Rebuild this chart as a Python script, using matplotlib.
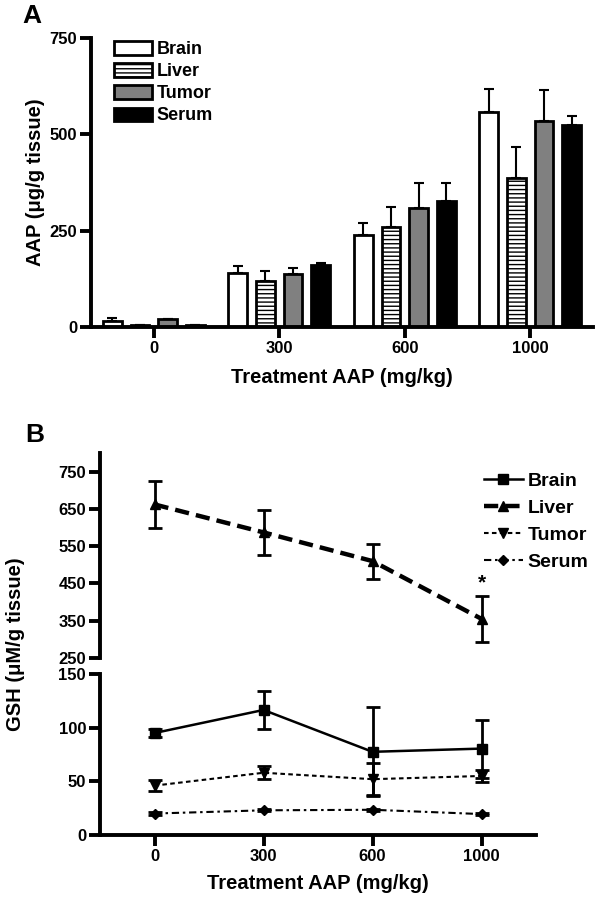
import matplotlib
matplotlib.use("Agg")
import matplotlib.pyplot as plt
import numpy as np

plt.rcParams['font.family'] = ['Liberation Sans', 'DejaVu Sans']
plt.rcParams['font.weight'] = 'bold'
plt.rcParams['hatch.linewidth'] = 1.0

# ---------------- Data ----------------
doses = ['0', '300', '600', '1000']
tissues = ['Brain', 'Liver', 'Tumor', 'Serum']

# Panel A: AAP (ug/g tissue), mean and upward SD
aap_brain = [15, 140, 240, 557]
aap_liver = [6, 119, 259, 386]
aap_tumor = [20, 138, 310, 535]
aap_serum = [4, 160, 328, 524]
aap_brain_err = [8, 19, 29, 61]
aap_liver_err = [0, 26, 53, 80]
aap_tumor_err = [2, 15, 65, 79]
aap_serum_err = [0, 7, 47, 24]

# Panel B: GSH (uM/g tissue)
gsh_brain = [95, 116.5, 77.5, 80.5]
gsh_brain_err = [4, 18, 41.5, 27]
gsh_liver = [662, 587, 510, 355]
gsh_liver_err = [62, 60, 47, 62]
gsh_tumor = [46, 58, 52, 55]
gsh_tumor_err = [5, 6, 15, 6]
gsh_serum = [20, 23, 23.5, 19.5]
gsh_serum_err = [1, 1, 1, 1]

W, H = 600, 899
fig = plt.figure(figsize=(6, 8.99), dpi=100)

def fx(px):
    return px / W

def fy(py):
    return 1 - py / H

SP_LW = 2.8

def style_axes(ax):
    for s in ['top', 'right']:
        ax.spines[s].set_visible(False)
    for s in ['left', 'bottom']:
        ax.spines[s].set_linewidth(SP_LW)
    ax.tick_params(axis='both', width=SP_LW, length=8, labelsize=12, pad=2)
    for lab in ax.get_xticklabels() + ax.get_yticklabels():
        lab.set_fontweight('bold')

# ---------------- Panel A ----------------
axA = fig.add_axes([fx(91), fy(327), fx(593) - fx(91), fy(38) - fy(327)])
x = np.arange(len(doses))
offsets = [-0.33, -0.11, 0.11, 0.33]
bw = 0.15
vals = [aap_brain, aap_liver, aap_tumor, aap_serum]
errs = [aap_brain_err, aap_liver_err, aap_tumor_err, aap_serum_err]
faces = ['white', 'white', '#808080', 'black']
hatches = [None, '----', None, None]
for i, t in enumerate(tissues):
    axA.bar(x + offsets[i], vals[i], width=bw, color=faces[i], edgecolor='black',
            linewidth=2, hatch=hatches[i], label=t, zorder=2)
    axA.errorbar(x + offsets[i], vals[i], yerr=[np.zeros(4), errs[i]], fmt='none',
                 ecolor='black', elinewidth=1.5, capsize=3.5, capthick=1.5, zorder=1)
axA.set_xlim(-0.5, 3.5)
axA.set_ylim(0, 750)
axA.set_yticks([0, 250, 500, 750])
axA.set_xticks(x)
axA.set_xticklabels(doses)
style_axes(axA)
axA.set_xlabel('Treatment AAP (mg/kg)', fontsize=14.5, fontweight='bold', labelpad=9)
axA.set_ylabel('AAP (μg/g tissue)', fontsize=14.5, fontweight='bold', labelpad=3)
axA.legend(loc='upper left', bbox_to_anchor=(0.014, 1.045), frameon=False,
           prop={'weight': 'bold', 'size': 13}, handlelength=2.1,
           handleheight=0.75, labelspacing=0.28, handletextpad=0.25)
fig.text(fx(22), fy(16), 'A', fontsize=19, fontweight='bold', ha='left', va='center')

# ---------------- Panel B ----------------
left_b = fx(100)
width_b = fx(536) - fx(100)
axU = fig.add_axes([left_b, fy(658), width_b, fy(453) - fy(658)])
axL = fig.add_axes([left_b, fy(835), width_b, fy(674) - fy(835)])

series = [
    ('Brain', gsh_brain, gsh_brain_err, '-', 's', 1.8, 6.5),
    ('Liver', gsh_liver, gsh_liver_err, (0, (3.2, 1.6)), '^', 3.2, 7),
    ('Tumor', gsh_tumor, gsh_tumor_err, (0, (2.2, 1.6)), 'v', 1.5, 7),
    ('Serum', gsh_serum, gsh_serum_err, (0, (3.5, 1.8, 1.2, 1.8)), 'D', 1.5, 5),
]
for ax in (axU, axL):
    for name, v, e, ls, mk, lw, ms in series:
        ax.errorbar(x, v, yerr=e, fmt='none', ecolor='black', elinewidth=2,
                    capsize=5, capthick=2, zorder=2)
        ax.plot(x, v, linestyle=ls, marker=mk, color='black', linewidth=lw,
                markersize=ms, label=name, zorder=3)
    ax.set_xlim(-0.5, 3.5)
    style_axes(ax)

axU.set_ylim(250, 800)
axU.set_yticks([250, 350, 450, 550, 650, 750])
axU.spines['bottom'].set_visible(False)
axU.tick_params(axis='x', which='both', bottom=False, labelbottom=False)
axU.text(3, 425, '*', ha='center', va='bottom', fontsize=15, fontweight='bold')

axL.set_ylim(0, 150)
axL.set_yticks([0, 50, 100, 150])
axL.set_xticks(x)
axL.set_xticklabels(doses)
axL.spines['top'].set_visible(False)
axL.set_xlabel('Treatment AAP (mg/kg)', fontsize=14.5, fontweight='bold', labelpad=7)

handles, labels = axU.get_legend_handles_labels()
axU.legend(handles, labels, loc='upper right', bbox_to_anchor=(1.16, 0.99),
           frameon=False, prop={'weight': 'bold', 'size': 14}, handlelength=2.0,
           labelspacing=0.48, handletextpad=0.25)

fig.text(fx(16), fy(644), 'GSH (μM/g tissue)', rotation=90, fontsize=14.5,
         fontweight='bold', ha='center', va='center')
fig.text(fx(25), fy(435), 'B', fontsize=19, fontweight='bold', ha='left', va='center')

fig.savefig('out.png', dpi=100)
